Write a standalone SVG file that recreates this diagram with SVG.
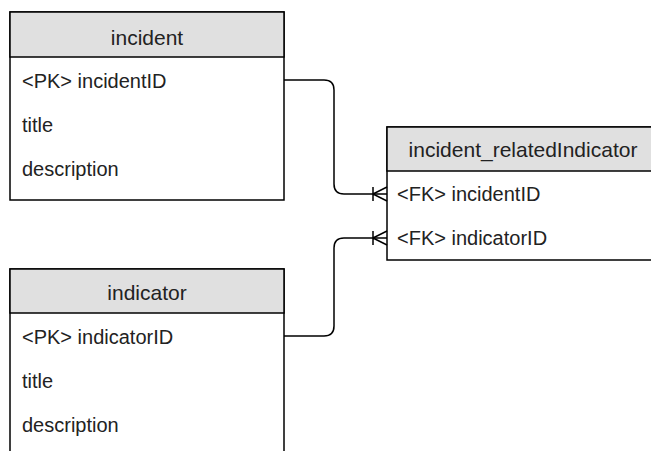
<svg xmlns="http://www.w3.org/2000/svg" width="651" height="451" viewBox="0 0 651 451">
<style>
.box{fill:#ffffff;stroke:#000000;stroke-width:1.5}
.hdr{fill:#e0e0e0;stroke:#000000;stroke-width:1.5}
.t{font-family:"Liberation Sans",Arial,sans-serif;font-size:20px;fill:#222222}
.h{text-anchor:middle;font-size:21px}
.c{fill:none;stroke:#000000;stroke-width:1.5}
</style>
<rect width="651" height="451" fill="#ffffff"/>
<g id="incident">
<rect class="box" x="10" y="12" width="274" height="188"/>
<rect class="hdr" x="10" y="12" width="274" height="45"/>
<text class="t h" x="147" y="45">incident</text>
<text class="t" x="22" y="88">&lt;PK&gt; incidentID</text>
<text class="t" x="22" y="132">title</text>
<text class="t" x="22" y="176">description</text>
</g>
<g id="incident_relatedIndicator">
<rect class="box" x="387" y="127" width="273" height="133"/>
<rect class="hdr" x="387" y="127" width="273" height="44"/>
<text class="t h" x="523" y="157">incident_relatedIndicator</text>
<text class="t" x="397" y="201">&lt;FK&gt; incidentID</text>
<text class="t" x="397" y="245">&lt;FK&gt; indicatorID</text>
</g>
<g id="indicator">
<rect class="box" x="10" y="269" width="274" height="200"/>
<rect class="hdr" x="10" y="269" width="274" height="44"/>
<text class="t h" x="147" y="300">indicator</text>
<text class="t" x="22" y="344">&lt;PK&gt; indicatorID</text>
<text class="t" x="22" y="388">title</text>
<text class="t" x="22" y="432">description</text>
</g>
<g id="connectors">
<path class="c" d="M284,80 H324 Q334,80 334,90 V184 Q334,194 344,194 H387"/>
<path class="c" d="M373,187 V201 M373,194 L387,187 M373,194 L387,201"/>
<path class="c" d="M284,336 H324 Q334,336 334,326 V248 Q334,238 344,238 H387"/>
<path class="c" d="M373,231 V245 M373,238 L387,231 M373,238 L387,245"/>
</g>
</svg>
